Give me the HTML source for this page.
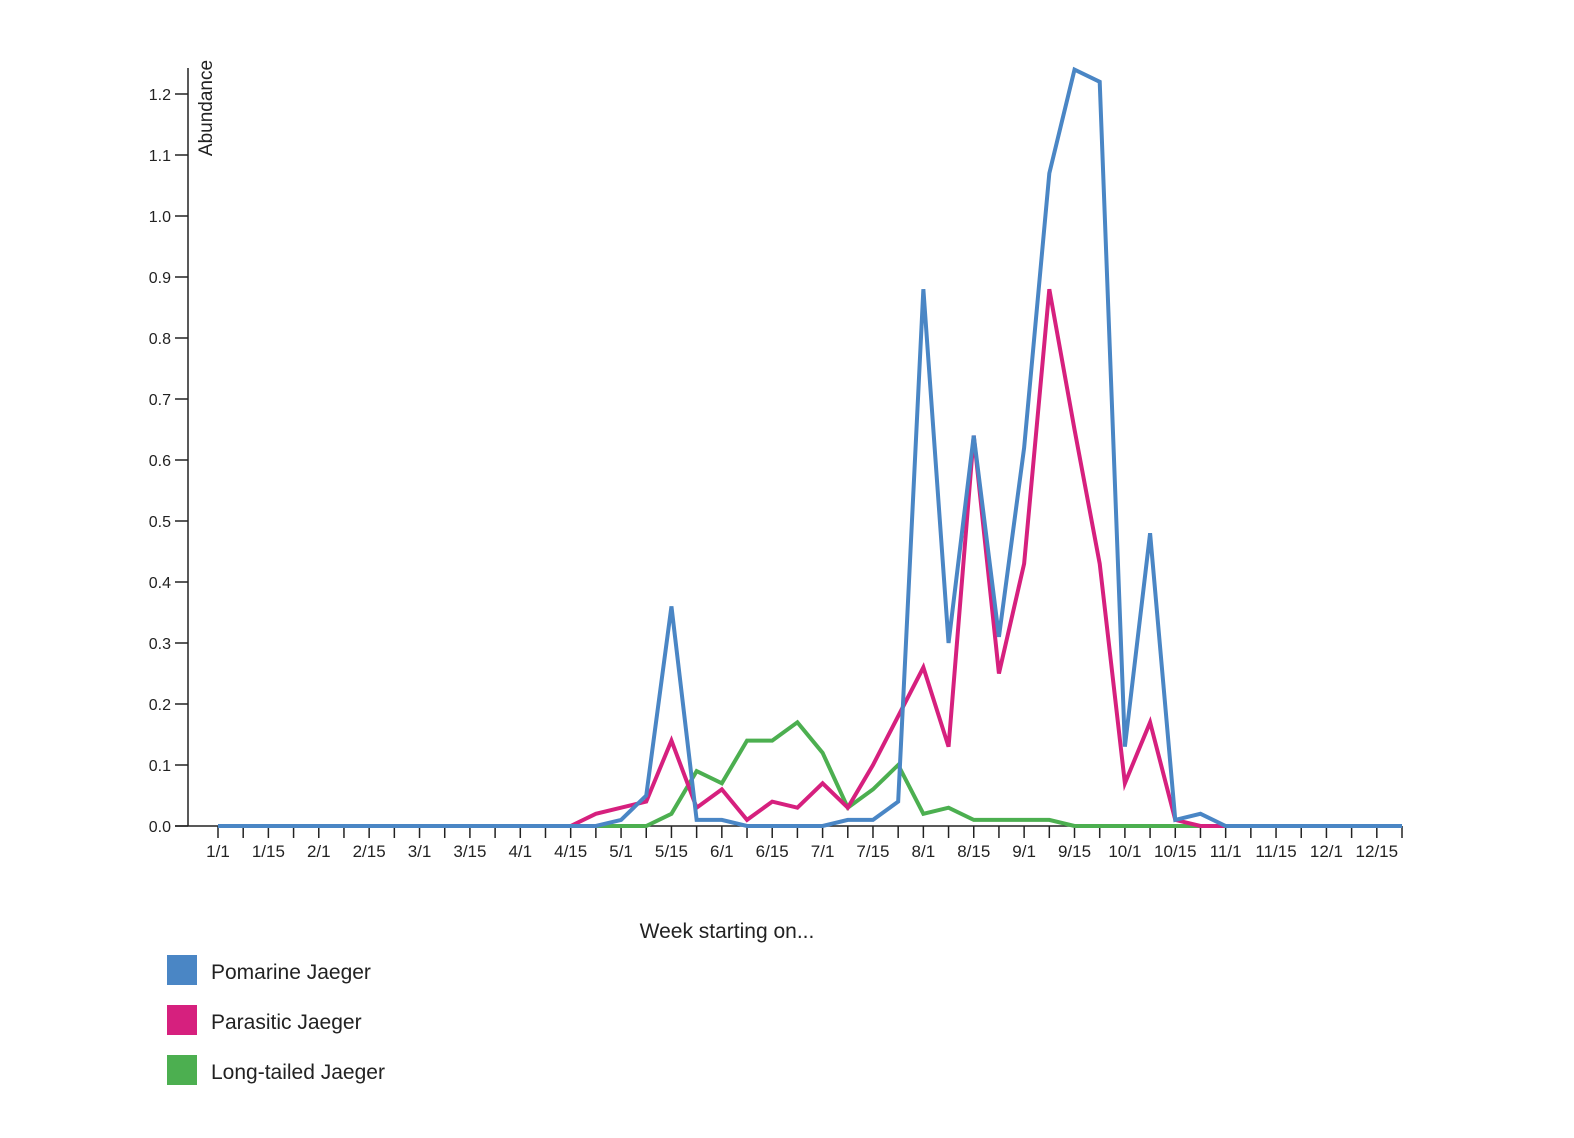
<!DOCTYPE html>
<html><head><meta charset="utf-8"><style>
body{margin:0;background:#fff;font-family:"Liberation Sans",sans-serif;}
svg text{font-family:"Liberation Sans",sans-serif;fill:#222;}
</style></head><body>
<svg id="chart" width="1574" height="1133" xmlns="http://www.w3.org/2000/svg">
<g id="axes"></g><g id="lines"></g>
<text x="727" y="938" font-size="21" text-anchor="middle">Week starting on...</text>
<text transform="translate(212,108) rotate(-90)" font-size="19" text-anchor="middle">Abundance</text>
<g>
<rect x="167" y="955" width="30" height="30" fill="#4a86c5"/>
<text x="211" y="979" font-size="21">Pomarine Jaeger</text>
<rect x="167" y="1005" width="30" height="30" fill="#d6207e"/>
<text x="211" y="1029" font-size="21">Parasitic Jaeger</text>
<rect x="167" y="1055" width="30" height="30" fill="#4caf50"/>
<text x="211" y="1079" font-size="21">Long-tailed Jaeger</text>
</g>
</svg>
<script>
const months=["1","2","3","4","5","6","7","8","9","10","11","12"];
const yTicks=[0,0.1,0.2,0.3,0.4,0.5,0.6,0.7,0.8,0.9,1.0,1.1,1.2];
const pomarine=[0,0,0,0,0,0,0,0,0,0,0,0,0,0,0,0,0.01,0.05,0.36,0.01,0.01,0,0,0,0,0.01,0.01,0.04,0.88,0.30,0.64,0.31,0.62,1.07,1.24,1.22,0.13,0.48,0.01,0.02,0,0,0,0,0,0,0,0];
const parasitic=[0,0,0,0,0,0,0,0,0,0,0,0,0,0,0,0.02,0.03,0.04,0.14,0.03,0.06,0.01,0.04,0.03,0.07,0.03,0.10,0.18,0.26,0.13,0.64,0.25,0.43,0.88,0.65,0.43,0.07,0.17,0.01,0,0,0,0,0,0,0,0,0];
const longtailed=[0,0,0,0,0,0,0,0,0,0,0,0,0,0,0,0,0,0,0.02,0.09,0.07,0.14,0.14,0.17,0.12,0.03,0.06,0.10,0.02,0.03,0.01,0.01,0.01,0.01,0,0,0,0,0,0,0,0,0,0,0,0,0,0];
const NS="http://www.w3.org/2000/svg";
const x0=218,x1=1402,yBase=826,yTop=94;
const xs=i=>x0+(x1-x0)*i/47;
const ys=v=>yBase-(yBase-yTop)*v/1.2;
function mk(tag,attrs,parent,txt){const e=document.createElementNS(NS,tag);for(const k in attrs)e.setAttribute(k,attrs[k]);if(txt!==undefined)e.textContent=txt;parent.appendChild(e);return e;}
const ax=document.getElementById('axes');
let e=mk('line',{x1:188,y1:68,x2:188,y2:yBase,stroke:'#222','stroke-width':1.5},ax);


e=mk('line',{x1:175,y1:yBase,x2:x1,y2:yBase,stroke:'#222','stroke-width':1.5},ax);


yTicks.forEach(v=>{
 const t=mk('line',{x1:175,y1:ys(v),x2:188,y2:ys(v),stroke:'#222','stroke-width':1.5},ax);
 
 
 const l=mk('text',{x:171,y:ys(v)+6,'font-size':16,'text-anchor':'end'},ax,v.toFixed(1));
 
 
});
for(let i=0;i<48;i++){
 const t=mk('line',{x1:xs(i),y1:yBase,x2:xs(i),y2:yBase+12,stroke:'#222','stroke-width':1.5},ax);
 
 
 if(i%2===0){
  const m=months[Math.floor(i/4)];const d=(i%4===0)?'1':'15';
  const l=mk('text',{x:xs(i),y:857,'font-size':17,'text-anchor':'middle'},ax,m+'/'+d);
  
  
 }
}
const lg=document.getElementById('lines');
[[longtailed,'#4caf50','line-long-tailed-jaeger'],[parasitic,'#d6207e','line-parasitic-jaeger'],[pomarine,'#4a86c5','line-pomarine-jaeger']].forEach(([d,c,n])=>{
 const p=mk('polyline',{points:d.map((v,i)=>xs(i)+','+ys(v)).join(' '),fill:'none',stroke:c,'stroke-width':4,'stroke-linejoin':'miter'},lg);
 
 
});
</script>
</body></html>
